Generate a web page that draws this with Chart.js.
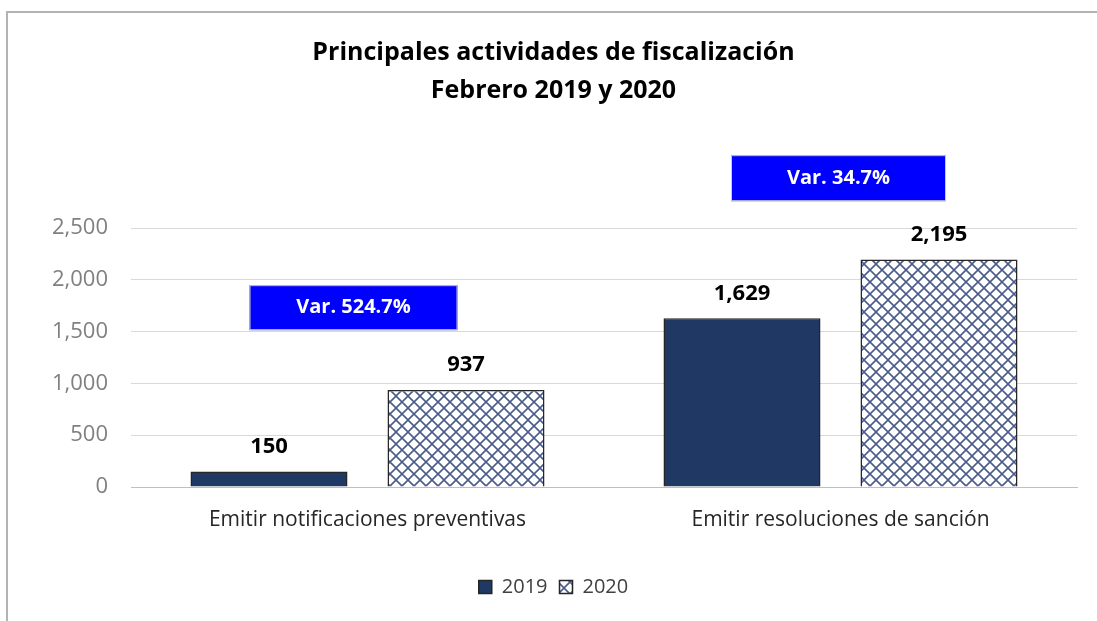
<!DOCTYPE html>
<html>
<head>
<meta charset="utf-8">
<script src="https://cdn.jsdelivr.net/npm/chart.js@4/dist/chart.umd.min.js"></script>
<style>
  html, body { margin: 0; padding: 0; background: #fff; overflow: hidden; }
  #wrap { position: relative; width: 1097px; height: 621px; }
  #frame { position: absolute; left: 6px; top: 11px; width: 1200px; height: 700px; border: 2px solid #b3b3b3; box-sizing: border-box; }
  canvas { position: absolute; left: 0; top: 0; }
</style>
</head>
<body>
<div id="wrap">
  <div id="frame"></div>
  <canvas id="chart" width="1097" height="621"></canvas>
</div>
<script>
// chart data
const categories = ['Emitir notificaciones preventivas', 'Emitir resoluciones de sanción'];
const seriesNames = ['2019', '2020'];
const values2019 = [150, 1629];
const values2020 = [937, 2195];
const yTicks = [0, 500, 1000, 1500, 2000, 2500];

const FONT = '"Open Sans", sans-serif';

// crosshatch fill for 2020
function makeHatch() {
    const c = document.createElement('canvas');
    c.width = 12;
    c.height = 12;
    const g = c.getContext('2d');
    g.fillStyle = '#ffffff';
    g.fillRect(0, 0, 12, 12);
    g.strokeStyle = '#4a5d8a';
    g.lineWidth = 1.6;
    g.beginPath();
    g.moveTo(0, 0); g.lineTo(12, 12);
    g.moveTo(12, 0); g.lineTo(0, 12);
    g.stroke();
    return g.createPattern(c, 'repeat');
}

// value labels above bars
const barLabels = {
    id: 'barLabels',
    afterDatasetsDraw(chart) {
        const ctx = chart.ctx;
        ctx.save();
        ctx.font = 'bold 22px ' + FONT;
        ctx.fillStyle = '#000';
        ctx.textAlign = 'center';
        ctx.textBaseline = 'middle';
        chart.data.datasets.forEach((ds, i) => {
            chart.getDatasetMeta(i).data.forEach((bar, j) => {
                ctx.fillText(ds.data[j].toLocaleString('en-US'), bar.x, bar.y - 25);
            });
        });
        ctx.restore();
    }
};

// blue "Var." boxes
const varBoxes = {
    id: 'varBoxes',
    afterDatasetsDraw(chart, args, opts) {
        const ctx = chart.ctx;
        const x = chart.scales.x, y = chart.scales.y;
        ctx.save();
        opts.boxes.forEach(b => {
            const pct = (values2020[b.cat] / values2019[b.cat] - 1) * 100;
            const cx = x.getPixelForValue(b.cat) + b.dx;
            const cy = y.getPixelForValue(b.v);
            ctx.fillStyle = '#0000ff';
            ctx.fillRect(cx - b.w / 2, cy - b.h / 2, b.w, b.h);
            ctx.strokeStyle = '#c8c8c8';
            ctx.lineWidth = 1;
            ctx.strokeRect(cx - b.w / 2 + 0.5, cy - b.h / 2 + 0.5, b.w - 1, b.h - 1);
            ctx.fillStyle = '#fff';
            ctx.font = 'bold 20px ' + FONT;
            ctx.textAlign = 'center';
            ctx.textBaseline = 'middle';
            ctx.fillText('Var. ' + pct.toFixed(1) + '%', cx, cy);
        });
        ctx.restore();
    }
};

const ctx = document.getElementById('chart').getContext('2d');
new Chart(ctx, {
    type: 'bar',
    data: {
        labels: categories,
        datasets: [{
            label: seriesNames[0],
            data: values2019,
            backgroundColor: '#203864',
            borderColor: '#262626',
            borderWidth: 1.5,
            categoryPercentage: 0.833,
            barPercentage: 0.797
        }, {
            label: seriesNames[1],
            data: values2020,
            backgroundColor: makeHatch(),
            borderColor: '#262626',
            borderWidth: 1.5,
            categoryPercentage: 0.833,
            barPercentage: 0.797
        }]
    },
    options: {
        responsive: false,
        animation: false,
        layout: { padding: { left: 30, right: 20, top: 14, bottom: 14 } },
        scales: {
            x: {
                afterFit(scale) { scale.height = 78; },
                grid: { display: false },
                border: { display: true, color: '#bfbfbf', width: 1 },
                ticks: { color: '#262626', font: { family: FONT, size: 21 }, padding: 12 }
            },
            y: {
                min: 0,
                max: 2500,
                afterBuildTicks(scale) {
                    scale.ticks = yTicks.map(v => ({ value: v }));
                },
                afterFit(scale) { scale.width = 101; },
                grid: { color: '#d9d9d9', drawTicks: false },
                border: { display: false },
                ticks: {
                    color: '#808080',
                    font: { family: FONT, size: 22 },
                    padding: 23,
                    callback: v => v.toLocaleString('en-US')
                }
            }
        },
        plugins: {
            title: {
                display: true,
                text: ['Principales actividades de fiscalización', 'Febrero 2019 y 2020'],
                color: '#000',
                font: { family: FONT, size: 25, weight: 'bold', lineHeight: 1.52 },
                padding: { top: 20, bottom: 118 }
            },
            legend: {
                position: 'bottom',
                labels: {
                    color: '#404040',
                    font: { family: FONT, size: 20 },
                    boxWidth: 13,
                    boxHeight: 13,
                    padding: 12
                }
            },
            tooltip: { enabled: false },
            varBoxes: {
                boxes: [
                    { cat: 0, dx: -14, v: 1731, w: 208, h: 45 },
                    { cat: 1, dx: -2, v: 2981, w: 215, h: 46 }
                ]
            }
        }
    },
    plugins: [barLabels, varBoxes]
});
</script>
</body>
</html>
